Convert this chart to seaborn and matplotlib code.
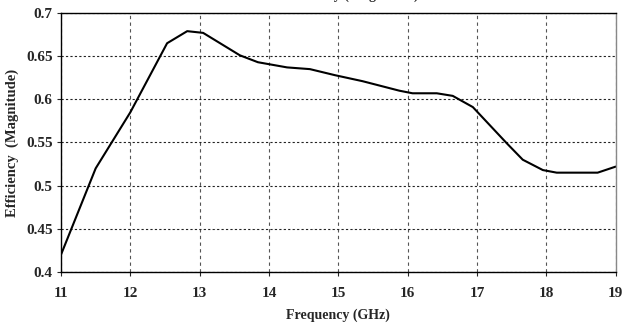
import pandas as pd
import seaborn as sns
import matplotlib.pyplot as plt

freq = [11.0, 11.5, 12.0, 12.53, 12.82, 13.05, 13.58, 13.84, 14.26, 14.59, 14.95,
        15.35, 15.88, 16.07, 16.42, 16.65, 16.94, 17.43, 17.66, 17.95, 18.15,
        18.74, 19.0]
efficiency = [0.42, 0.52, 0.585, 0.665, 0.679, 0.677, 0.651, 0.643, 0.637, 0.635,
              0.628, 0.621, 0.610, 0.607, 0.607, 0.604, 0.591, 0.549, 0.530,
              0.518, 0.515, 0.515, 0.522]
x_ticks = [11, 12, 13, 14, 15, 16, 17, 18, 19]
y_ticks = [0.4, 0.45, 0.5, 0.55, 0.6, 0.65, 0.7]
y_labels = ["0.4", "0.45", "0.5", "0.55", "0.6", "0.65", "0.7"]

data = pd.DataFrame({"freq": freq, "eff": efficiency})

sns.set_style("white")
plt.rcParams["font.family"] = ["Liberation Serif", "DejaVu Serif"]
plt.rcParams["font.weight"] = "bold"

fig = plt.figure(figsize=(6.31, 3.26), dpi=100)
ax = fig.add_axes([0.0967, 0.166, 0.879, 0.794])

sns.lineplot(data=data, x="freq", y="eff", color="black", linewidth=1.5, ax=ax)

ax.set_xlim(11, 19)
ax.set_ylim(0.4, 0.7)
ax.set_xticks(x_ticks)
ax.set_yticks(y_ticks)
ax.set_yticklabels(y_labels)
ax.tick_params(axis="both", labelsize=11, length=3, width=0.8, direction="out",
               bottom=True, left=True)
ax.tick_params(axis="x", pad=8)
ax.tick_params(axis="y", pad=3)
for lbl in ax.get_xticklabels() + ax.get_yticklabels():
    lbl.set_fontweight("bold")

ax.grid(True, axis="x", color="#555555", linestyle=(0, (3, 3)), linewidth=0.8)
ax.grid(True, axis="y", color="#222222", linestyle=(0, (2, 2)), linewidth=0.8)

for side in ["left", "bottom", "top"]:
    ax.spines[side].set_color("black")
    ax.spines[side].set_linewidth(1.0)
ax.spines["right"].set_color("#888888")
ax.spines["right"].set_linewidth(1.0)

ax.set_xlabel("Frequency (GHz)", fontsize=10, fontweight="bold")
ax.set_ylabel("Efficiency  (Magnitude)", fontsize=10.5, fontweight="bold")
ax.xaxis.set_label_coords(0.5, -0.14)
ax.yaxis.set_label_coords(-0.075, 0.5)

# title cut off at the top edge of the original image
fig.text(0.555, 1.003, "Efficiency (Magnitude)", ha="center", va="baseline",
         fontsize=10, fontweight="bold")

fig.savefig("out.png", dpi=100)
